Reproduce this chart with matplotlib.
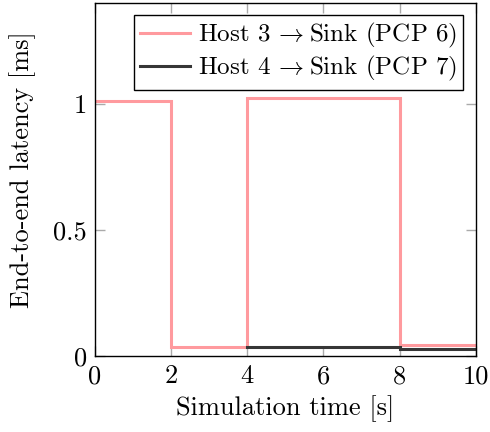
import matplotlib
matplotlib.use("Agg")
import matplotlib.pyplot as plt

# Data (step functions: value holds from edge[i] to edge[i+1])
host3_edges = [0, 2, 4, 8, 10]
host3_values = [1.012, 0.034, 1.022, 0.043]
host4_edges = [4, 8, 10]
host4_values = [0.037, 0.028]

xticks = [0, 2, 4, 6, 8, 10]
yticks = [0, 0.5, 1]
ytick_labels = ["0", "0.5", "1"]

label3 = r"Host 3 $\!\rightarrow\!\!$ Sink (PCP 6)"
label4 = r"Host 4 $\!\rightarrow\!\!$ Sink (PCP 7)"

plt.rcParams['font.family'] = ['cmr10', 'DejaVu Serif']
plt.rcParams['mathtext.fontset'] = 'cm'
plt.rcParams['axes.formatter.use_mathtext'] = True

fs = 19
lfs = 18
fig = plt.figure(figsize=(4.9, 4.32), dpi=100)
ax = fig.add_axes([0.194, 0.176, 0.777, 0.818])

def step_xy(edges, values):
    xs, ys = [], []
    for i, v in enumerate(values):
        xs += [edges[i], edges[i + 1]]
        ys += [v, v]
    return xs, ys

x3, y3 = step_xy(host3_edges, host3_values)
x4, y4 = step_xy(host4_edges, host4_values)
ax.plot(x3, y3, color='#ff9a9e', lw=2.2, label=label3, solid_joinstyle='miter')
ax.plot(x4, y4, color='#363636', lw=2.2, label=label4, solid_joinstyle='miter')

ax.set_xlim(0, 10)
ax.set_ylim(0, 1.4)
ax.set_xticks(xticks)
ax.set_xticklabels([str(t) for t in xticks])
ax.set_yticks(yticks)
ax.set_yticklabels(ytick_labels)
ax.tick_params(direction='in', length=7.5, width=1, color='#aaaaaa',
               top=True, right=True, labelsize=fs, pad=6)
for s in ax.spines.values():
    s.set_linewidth(1.0)
    s.set_color('black')

ax.set_xlabel("Simulation time [s]", fontsize=fs, labelpad=5)
ax.set_ylabel("End-to-end latency [ms]", fontsize=fs, labelpad=12)
ax.yaxis.label.set_y(0.527)

leg = ax.legend(loc='upper right', fontsize=lfs, frameon=True, fancybox=False,
                edgecolor='black', framealpha=1, borderpad=0.25, labelspacing=0.15,
                handlelength=2.0, handletextpad=0.3, borderaxespad=0.5)
leg.get_frame().set_linewidth(1.0)

fig.savefig("out.png", dpi=100)
